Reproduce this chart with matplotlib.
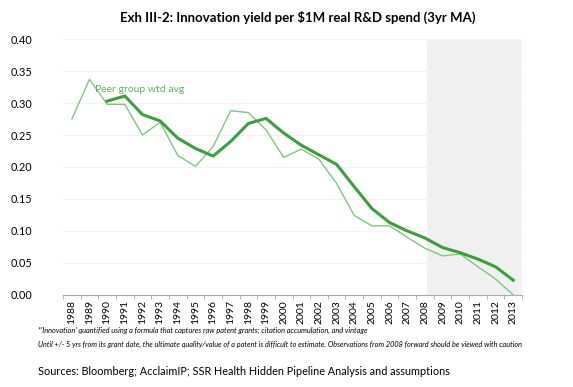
import numpy as np
import matplotlib.pyplot as plt

plt.rcParams['font.family'] = ['Lato', 'DejaVu Sans']

years = list(range(1988, 2014))
peer = [0.275, 0.337, 0.298, 0.298, 0.250, 0.270, 0.218, 0.201, 0.232, 0.288,
        0.285, 0.258, 0.215, 0.228, 0.212, 0.174, 0.124, 0.108, 0.108, 0.090,
        0.073, 0.061, 0.064, 0.044, 0.025, 0.0]
firm_years = list(range(1990, 2014))
firm = [0.303, 0.311, 0.282, 0.272, 0.245, 0.229, 0.217, 0.240, 0.268, 0.276,
        0.253, 0.234, 0.219, 0.204, 0.169, 0.135, 0.113, 0.100, 0.089, 0.074,
        0.066, 0.056, 0.044, 0.023]
yticks = [0.0, 0.05, 0.10, 0.15, 0.20, 0.25, 0.30, 0.35, 0.40]

fig = plt.figure(figsize=(5.73, 3.87), dpi=100)
ax = fig.add_axes([0.11, 0.238, 0.801, 0.661])

ax.axvspan(2008.1, 2013.5, color='#f0f0f0', zorder=0, lw=0)
for v in yticks[1:]:
    ax.axhline(v, color='#f3f3f3', lw=0.8, zorder=0.5)

ax.plot(years, peer, color='#80c680', lw=1.0, zorder=2)
ax.plot(firm_years, firm, color='#3d9e3d', lw=2.2, zorder=3)
ax.text(1989.3, 0.321, 'Peer group wtd avg', color='#5cb35c', fontsize=7.5, va='center')

ax.set_xlim(1987.5, 2013.5)
ax.set_ylim(0, 0.40)
ax.set_yticks(yticks)
ax.set_yticklabels(['%.2f' % v for v in yticks], fontsize=7.8)
ax.tick_params(axis='y', length=0, pad=22)
ax.set_xticks(years)
ax.set_xticklabels([str(y) for y in years], rotation=90, fontsize=7.5)
ax.set_xticks(np.arange(1987.5, 2014, 1), minor=True)
ax.tick_params(axis='x', which='major', length=0, pad=4)
ax.tick_params(axis='x', which='minor', length=3, color='#aaaaaa')
for s in ['top', 'right', 'left']:
    ax.spines[s].set_visible(False)
ax.spines['bottom'].set_color('#aaaaaa')

fig.text(0.52, 0.955, 'Exh III-2: Innovation yield per $1M real R&D spend (3yr MA)',
         ha='center', va='center', fontsize=9.5, fontweight='bold')
fig.text(0.066, 0.147, "*'Innovation' quantified using a formula that captures raw patent grants; citation accumulation, and vintage",
         fontsize=5.3, style='italic', va='center')
fig.text(0.066, 0.111, "Until +/- 5 yrs from its grant date, the ultimate quality/value of a patent is difficult to estimate. Observations from 2008 forward should be viewed with caution",
         fontsize=5.2, style='italic', va='center')
fig.text(0.066, 0.039, 'Sources: Bloomberg; AcclaimIP; SSR Health Hidden Pipeline Analysis and assumptions',
         fontsize=7.8, va='center')

fig.savefig('out.png', dpi=100)
